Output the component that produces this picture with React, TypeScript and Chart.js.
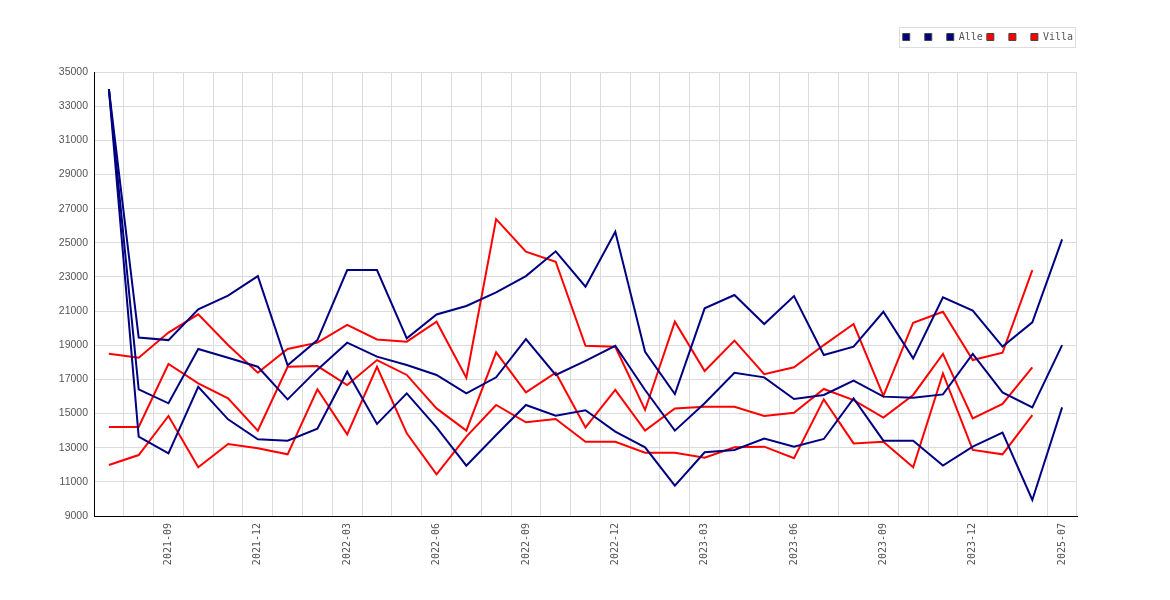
import React, { useEffect, useRef } from "react";
import { Chart, registerables } from "chart.js";

Chart.register(...registerables);

const categories = [
  "2021-07", "2021-08", "2021-09", "2021-10", "2021-11", "2021-12",
  "2022-01", "2022-02", "2022-03", "2022-04", "2022-05", "2022-06",
  "2022-07", "2022-08", "2022-09", "2022-10", "2022-11", "2022-12",
  "2023-01", "2023-02", "2023-03", "2023-04", "2023-05", "2023-06",
  "2023-07", "2023-08", "2023-09", "2023-10", "2023-11", "2023-12",
  "2025-05", "2025-06", "2025-07",
];

const yTickMin = 9000;
const yTickMax = 35000;
const yTickStep = 2000;

const alleHigh = [
  34000, 19450, 19300, 21100, 21900, 23050, 17830, 19300, 23400, 23400, 19400,
  20800, 21300, 22100, 23050, 24500, 22430, 25650, 18620, 16140, 21160, 21940,
  20240, 21880, 18430, 18920, 20960, 18230, 21800, 21030, 18920, 20340, 25200,
];
const alleMid = [
  34000, 16420, 15600, 18780, 18270, 17740, 15830, 17570, 19150, 18330, 17840,
  17260, 16180, 17120, 19360, 17260, 18080, 18970, 16380, 14000, 15600, 17390,
  17120, 15850, 16090, 16930, 15990, 15930, 16120, 18490, 16240, 15360, 19010,
];
const alleLow = [
  34000, 13650, 12670, 16570, 14660, 13490, 13410, 14110, 17450, 14390, 16180,
  14190, 11950, 13740, 15500, 14870, 15190, 13940, 13020, 10780, 12730, 12870,
  13530, 13060, 13510, 15890, 13410, 13410, 11950, 13060, 13880, 9940, 15360,
];
const villaHigh = [
  18500, 18270, 19740, 20810, 19010, 17390, 18780, 19150, 20190, 19340, 19210,
  20380, 17100, 26390, 24480, 23890, 18970, 18910, 15210, 20380, 17490, 19270,
  17300, 17710, 19010, 20240, 16030, 20320, 20960, 18130, 18560, 23400, null,
];
const villaMid = [
  14210, 14210, 17900, 16770, 15890, 14000, 17740, 17780, 16670, 18130, 17260,
  15300, 14000, 18580, 16240, 17390, 14190, 16380, 14000, 15300, 15400, 15400,
  14860, 15050, 16440, 15790, 14760, 16090, 18490, 14720, 15560, 17710, null,
];
const villaLow = [
  11990, 12570, 14860, 11850, 13220, 12970, 12610, 16420, 13780, 17740, 13840,
  11440, 13650, 15500, 14490, 14680, 13350, 13350, 12710, 12710, 12410, 13020,
  13060, 12380, 15830, 13250, 13350, 11850, 17350, 12870, 12610, 14910, null,
];

const NAVY = "#000080";
const RED = "#ff0000";
const GRID = "#dcdcdc";
const TEXT = "#555555";
const MONO = "'DejaVu Sans Mono', monospace";

const legendFrame = {
  id: "legendFrame",
  afterDraw(chart: any) {
    const lg = chart.legend;
    if (!lg || !lg.legendHitBoxes || !lg.legendHitBoxes.length) return;
    const hb = lg.legendHitBoxes;
    const left = Math.min(...hb.map((h: any) => h.left)) - 4;
    const right = Math.max(...hb.map((h: any) => h.left + h.width)) + 2;
    const top = Math.min(...hb.map((h: any) => h.top)) - 5;
    const bottom = Math.max(...hb.map((h: any) => h.top + h.height)) + 5;
    const ctx = chart.ctx;
    ctx.save();
    ctx.strokeStyle = "#dddddd";
    ctx.lineWidth = 1;
    ctx.strokeRect(
      Math.round(left) + 0.5,
      Math.round(top) + 0.5,
      Math.round(right - left),
      Math.round(bottom - top)
    );
    ctx.restore();
  },
};

export default function App() {
  const ref = useRef<HTMLCanvasElement>(null);

  useEffect(() => {
    if (!ref.current) return;
    const mk = (label: string, data: (number | null)[], color: string) => ({
      label,
      data,
      borderColor: color,
      backgroundColor: color,
      borderWidth: 2,
      pointRadius: 0,
      pointHoverRadius: 0,
      tension: 0,
      fill: false,
      spanGaps: false,
    });
    const chart = new Chart(ref.current, {
      type: "line",
      data: {
        labels: categories,
        datasets: [
          mk(" ", alleHigh, NAVY),
          mk(" ", alleMid, NAVY),
          mk("Alle", alleLow, NAVY),
          mk(" ", villaHigh, RED),
          mk(" ", villaMid, RED),
          mk("Villa", villaLow, RED),
        ],
      },
      options: {
        responsive: true,
        maintainAspectRatio: false,
        animation: false,
        devicePixelRatio: 1,
        layout: { padding: { top: 20, right: 85, left: 0, bottom: 0 } },
        plugins: {
          title: {
            display: true,
            text: "",
            padding: { top: 0, bottom: 19 },
            font: { size: 1, lineHeight: 1 },
          },
          legend: {
            position: "top",
            align: "end",
            weight: 3000,
            labels: {
              boxWidth: 7,
              boxHeight: 7,
              padding: 4,
              color: TEXT,
              font: { family: MONO, size: 10 },
              generateLabels: (c: any) =>
                Chart.defaults.plugins.legend.labels
                  .generateLabels(c)
                  .map((l: any) => ({ ...l, strokeStyle: "#444444", lineWidth: 1 })),
            },
          },
          tooltip: { enabled: false },
        },
        scales: {
          x: {
            type: "category",
            offset: true,
            grid: { offset: true, color: GRID, drawTicks: false },
            border: { color: "#000000", width: 1 },
            ticks: {
              autoSkip: false,
              maxRotation: 90,
              minRotation: 90,
              padding: 7,
              color: TEXT,
              font: { family: MONO, size: 10 },
              callback: (_v: any, i: number) => (i % 3 === 2 ? categories[i] : ""),
            },
            afterFit: (s: any) => {
              s.height = 76;
            },
          },
          y: {
            min: yTickMin,
            max: yTickMax,
            ticks: {
              stepSize: yTickStep,
              padding: 6,
              color: TEXT,
              font: { family: "'Liberation Sans', Arial, sans-serif", size: 10.5 },
              callback: (v: any) => String(v),
            },
            grid: { color: GRID, drawTicks: false },
            border: { color: "#000000", width: 1 },
            afterFit: (s: any) => {
              s.width = 86;
            },
          },
        },
      } as any,
      plugins: [legendFrame],
    });
    return () => chart.destroy();
  }, []);

  return (
    <div style={{ width: 1154, height: 584, position: "relative" }}>
      <canvas ref={ref} />
    </div>
  );
}
